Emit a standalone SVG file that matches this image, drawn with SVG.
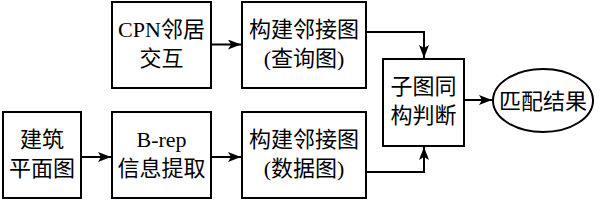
<svg xmlns="http://www.w3.org/2000/svg" width="600" height="200" viewBox="0 0 600 200">
<style>
.box{fill:#fff;stroke:#000;stroke-width:2}
.t{font-family:"Liberation Serif","Noto Sans CJK SC",serif;font-size:22px;fill:#000;text-anchor:middle}
.c{fill:none;stroke:#000;stroke-width:2}
</style>
<defs>
<marker id="ah" markerUnits="userSpaceOnUse" markerWidth="14" markerHeight="10" refX="13" refY="5" orient="auto">
<path d="M0,0 L13,5 L0,10 L3,5 Z" fill="#000"/>
</marker>
</defs>
<rect width="600" height="200" fill="#fff"/>
<g id="connectors">
<line class="c" x1="211" y1="44.5" x2="241" y2="44.5" marker-end="url(#ah)"/>
<line class="c" x1="81" y1="157" x2="111" y2="157" marker-end="url(#ah)"/>
<line class="c" x1="211" y1="157" x2="241" y2="157" marker-end="url(#ah)"/>
<polyline class="c" points="366,32 424,32 424,58" marker-end="url(#ah)"/>
<polyline class="c" points="366,172 424,172 424,147" marker-end="url(#ah)"/>
<line class="c" x1="464" y1="100" x2="492" y2="100" marker-end="url(#ah)"/>
</g>
<g id="cpn">
<rect class="box" x="112" y="2" width="99" height="86"/>
<text class="t" x="161.5" y="37">CPN邻居</text>
<text class="t" x="161.5" y="66">交互</text>
</g>
<g id="query">
<rect class="box" x="242" y="2" width="124" height="86"/>
<text class="t" x="304" y="37">构建邻接图</text>
<text class="t" x="304" y="66">(查询图)</text>
</g>
<g id="floor">
<rect class="box" x="3" y="112" width="78" height="86"/>
<text class="t" x="42" y="147">建筑</text>
<text class="t" x="42" y="176">平面图</text>
</g>
<g id="brep">
<rect class="box" x="112" y="112" width="99" height="86"/>
<text class="t" x="161.5" y="147">B-rep</text>
<text class="t" x="161.5" y="176">信息提取</text>
</g>
<g id="data">
<rect class="box" x="242" y="112" width="124" height="86"/>
<text class="t" x="304" y="147">构建邻接图</text>
<text class="t" x="304" y="176">(数据图)</text>
</g>
<g id="iso">
<rect class="box" x="383" y="59" width="81" height="87"/>
<text class="t" x="423.5" y="94">子图同</text>
<text class="t" x="423.5" y="123">构判断</text>
</g>
<g id="result">
<ellipse class="box" cx="543" cy="100.5" rx="50" ry="31.5"/>
<text class="t" x="543" y="108.5">匹配结果</text>
</g>
</svg>
